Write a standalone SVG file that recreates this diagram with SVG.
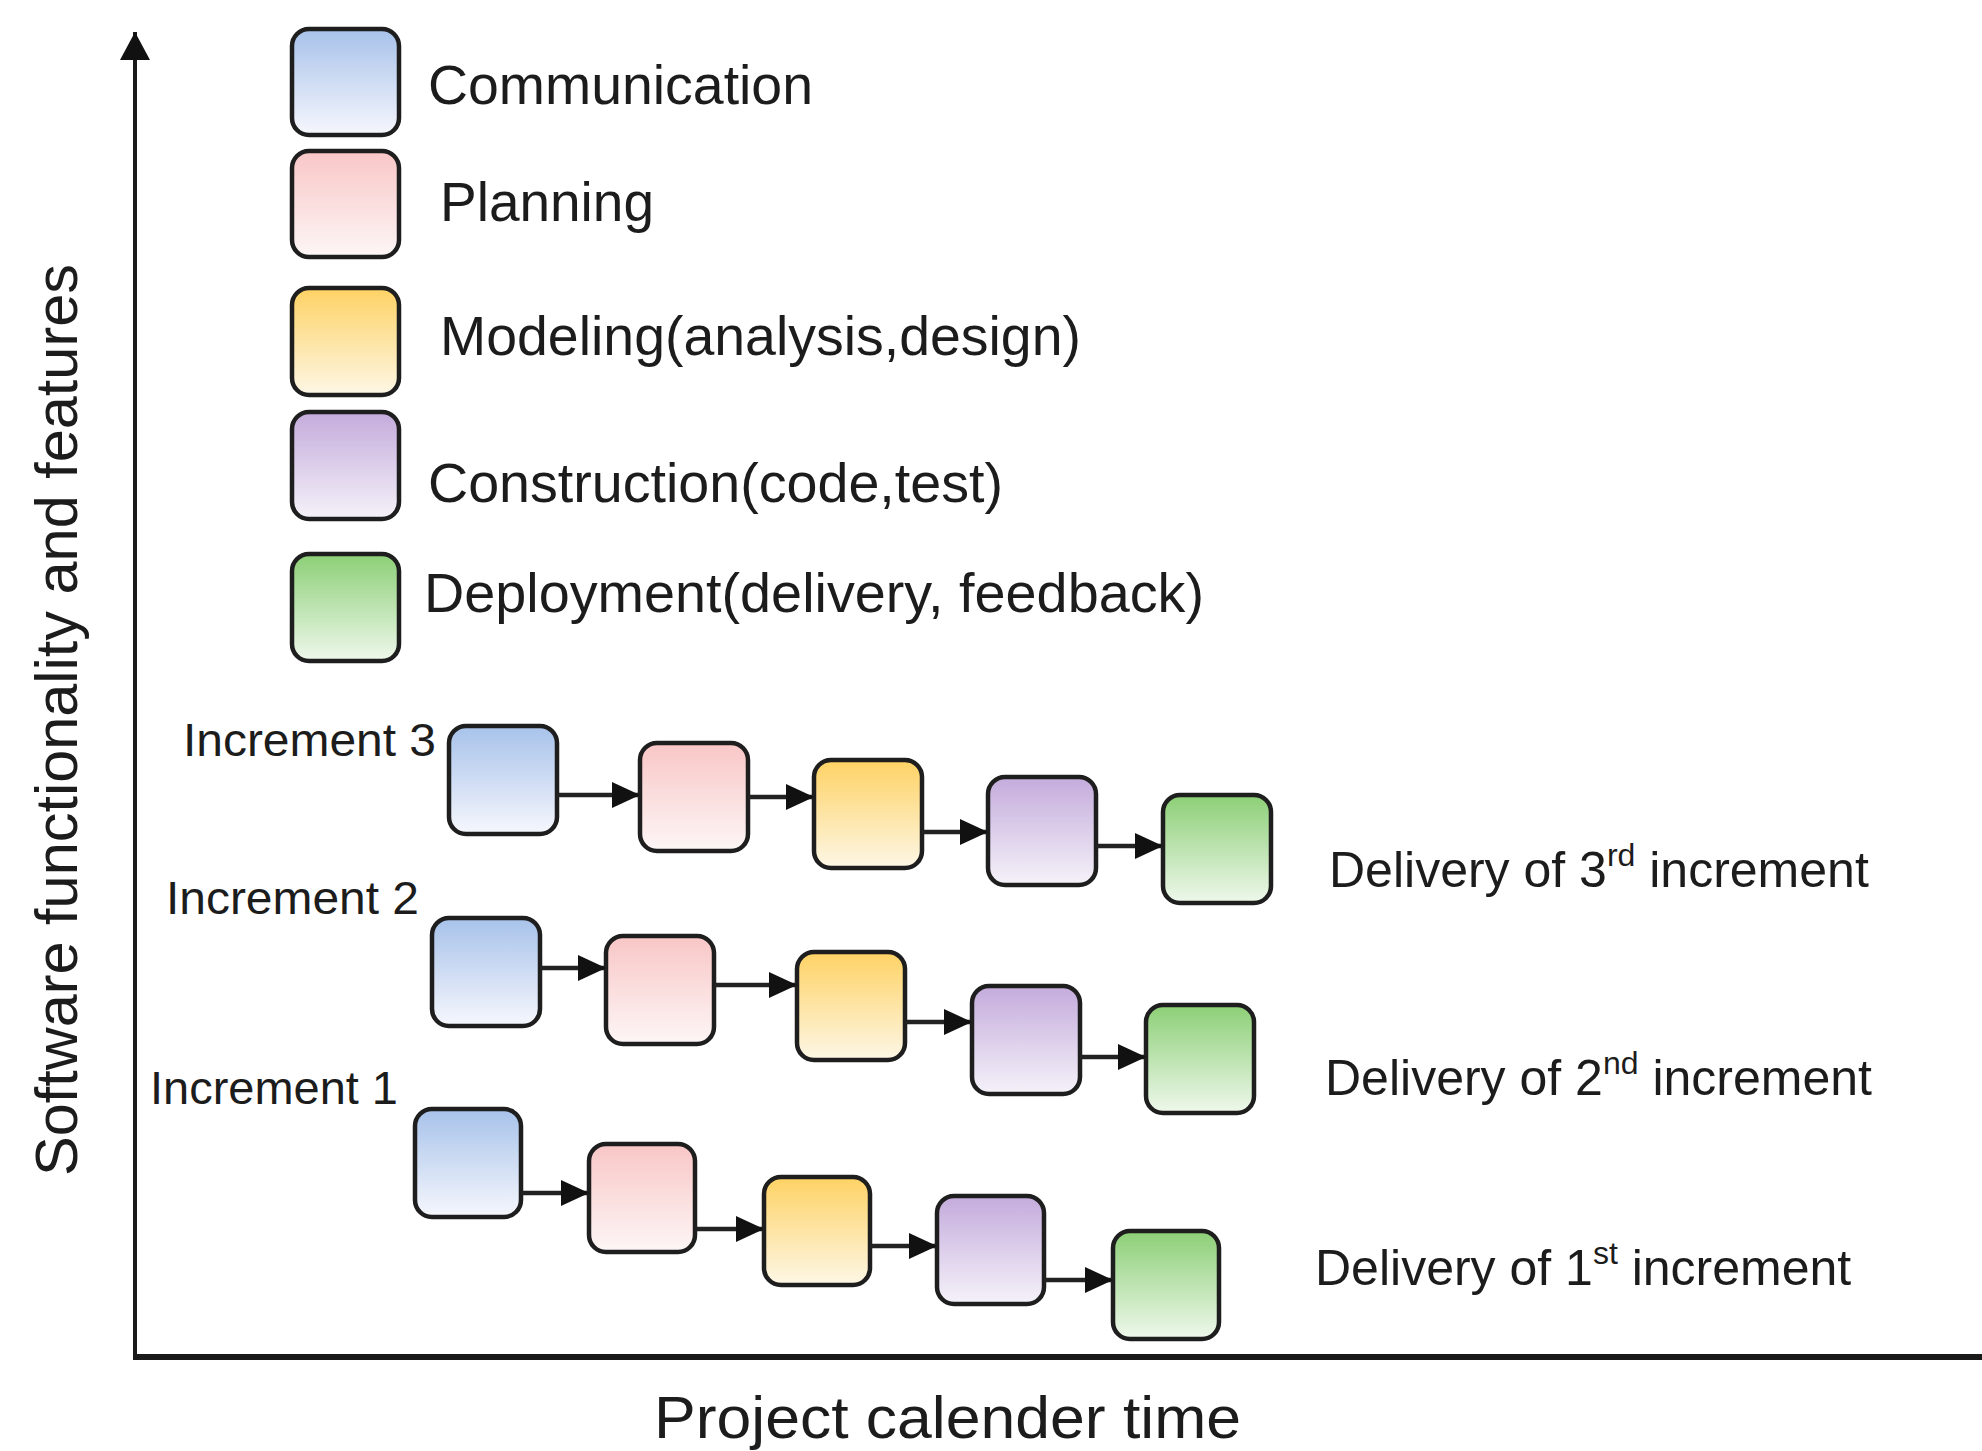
<svg xmlns="http://www.w3.org/2000/svg" width="1982" height="1451" viewBox="0 0 1982 1451">
<style>
  .t { font-family: "Liberation Sans", Arial, Helvetica, sans-serif; fill: #1c1c1c; }
  .box { stroke: #1e1e1e; stroke-width: 4.5; }
  .conn { stroke: #222; stroke-width: 4.5; fill: none; }
  .axis { stroke: #1a1a1a; fill: none; }
</style>
<defs>
  <linearGradient id="gBlue" x1="0" y1="0" x2="0" y2="1">
    <stop offset="0" stop-color="#a7c2ea"/>
    <stop offset="1" stop-color="#f6f7fd"/>
  </linearGradient>
  <linearGradient id="gPink" x1="0" y1="0" x2="0" y2="1">
    <stop offset="0" stop-color="#f9c6c6"/>
    <stop offset="1" stop-color="#fdf6f6"/>
  </linearGradient>
  <linearGradient id="gYellow" x1="0" y1="0" x2="0" y2="1">
    <stop offset="0" stop-color="#fed264"/>
    <stop offset="1" stop-color="#fdf7e6"/>
  </linearGradient>
  <linearGradient id="gPurple" x1="0" y1="0" x2="0" y2="1">
    <stop offset="0" stop-color="#c4abdc"/>
    <stop offset="1" stop-color="#f5f2f9"/>
  </linearGradient>
  <linearGradient id="gGreen" x1="0" y1="0" x2="0" y2="1">
    <stop offset="0" stop-color="#8ccf76"/>
    <stop offset="1" stop-color="#eff8ec"/>
  </linearGradient>
  <marker id="arr" viewBox="0 0 28 26" refX="28" refY="13" markerWidth="28" markerHeight="26" markerUnits="userSpaceOnUse" orient="auto">
    <path d="M0,0 L28,13 L0,26 z" fill="#111"/>
  </marker>
  <marker id="axArr" viewBox="0 0 28 30" refX="28" refY="15" markerWidth="28" markerHeight="30" markerUnits="userSpaceOnUse" orient="auto">
    <path d="M0,0 L28,15 L0,30 z" fill="#111"/>
  </marker>
</defs>
<rect width="1982" height="1451" fill="#ffffff"/>

<g id="axes">
  <line class="axis" x1="135" y1="1359" x2="135" y2="32" stroke-width="4" marker-end="url(#axArr)"/>
  <line class="axis" x1="133" y1="1357" x2="1982" y2="1357" stroke-width="6" stroke="#2a2a2a"/>
  <text class="t" font-size="60" transform="translate(77,720) rotate(-90)" text-anchor="middle" textLength="912" lengthAdjust="spacingAndGlyphs">Software functionality and features</text>
  <text class="t" x="654" y="1438" font-size="60" textLength="587" lengthAdjust="spacingAndGlyphs">Project calender time</text>
</g>

<g id="legend">
  <g id="legend-communication">
    <rect class="box" x="292" y="29" width="107" height="106" rx="17" fill="url(#gBlue)"/>
    <text class="t" x="428" y="104" font-size="55" textLength="385" lengthAdjust="spacingAndGlyphs">Communication</text>
  </g>
  <g id="legend-planning">
    <rect class="box" x="292" y="151" width="107" height="106" rx="17" fill="url(#gPink)"/>
    <text class="t" x="440" y="221" font-size="55" textLength="214" lengthAdjust="spacingAndGlyphs">Planning</text>
  </g>
  <g id="legend-modeling">
    <rect class="box" x="292" y="288" width="107" height="107" rx="17" fill="url(#gYellow)"/>
    <text class="t" x="440" y="355" font-size="55" textLength="641" lengthAdjust="spacingAndGlyphs">Modeling(analysis,design)</text>
  </g>
  <g id="legend-construction">
    <rect class="box" x="292" y="412" width="107" height="107" rx="17" fill="url(#gPurple)"/>
    <text class="t" x="428" y="502" font-size="55" textLength="575" lengthAdjust="spacingAndGlyphs">Construction(code,test)</text>
  </g>
  <g id="legend-deployment">
    <rect class="box" x="292" y="554" width="107" height="107" rx="17" fill="url(#gGreen)"/>
    <text class="t" x="424" y="612" font-size="55" textLength="780" lengthAdjust="spacingAndGlyphs">Deployment(delivery, feedback)</text>
  </g>
</g>

<g id="labels">
  <text class="t" x="183" y="756" font-size="46" textLength="253" lengthAdjust="spacingAndGlyphs">Increment 3</text>
  <text class="t" x="166" y="914" font-size="46" textLength="253" lengthAdjust="spacingAndGlyphs">Increment 2</text>
  <text class="t" x="150" y="1104" font-size="46" textLength="248" lengthAdjust="spacingAndGlyphs">Increment 1</text>
  <text class="t" x="1329" y="887" font-size="50">Delivery of 3<tspan font-size="32" dy="-21">rd</tspan><tspan dy="21"> increment</tspan></text>
  <text class="t" x="1325" y="1095" font-size="50">Delivery of 2<tspan font-size="32" dy="-21">nd</tspan><tspan dy="21"> increment</tspan></text>
  <text class="t" x="1315" y="1285" font-size="50">Delivery of 1<tspan font-size="32" dy="-21">st</tspan><tspan dy="21"> increment</tspan></text>
</g>

<g id="increment3">
  <rect id="i3-comm" class="box" x="449" y="726" width="108" height="108" rx="17" fill="url(#gBlue)"/>
  <rect id="i3-plan" class="box" x="640" y="743" width="108" height="108" rx="17" fill="url(#gPink)"/>
  <rect id="i3-model" class="box" x="814" y="760" width="108" height="108" rx="17" fill="url(#gYellow)"/>
  <rect id="i3-constr" class="box" x="988" y="777" width="108" height="108" rx="17" fill="url(#gPurple)"/>
  <rect id="i3-deploy" class="box" x="1163" y="795" width="108" height="108" rx="17" fill="url(#gGreen)"/>
</g>
<g id="increment2">
  <rect id="i2-comm" class="box" x="432" y="918" width="108" height="108" rx="17" fill="url(#gBlue)"/>
  <rect id="i2-plan" class="box" x="606" y="936" width="108" height="108" rx="17" fill="url(#gPink)"/>
  <rect id="i2-model" class="box" x="797" y="952" width="108" height="108" rx="17" fill="url(#gYellow)"/>
  <rect id="i2-constr" class="box" x="972" y="986" width="108" height="108" rx="17" fill="url(#gPurple)"/>
  <rect id="i2-deploy" class="box" x="1146" y="1005" width="108" height="108" rx="17" fill="url(#gGreen)"/>
</g>
<g id="increment1">
  <rect id="i1-comm" class="box" x="415" y="1109" width="106" height="108" rx="17" fill="url(#gBlue)"/>
  <rect id="i1-plan" class="box" x="589" y="1144" width="106" height="108" rx="17" fill="url(#gPink)"/>
  <rect id="i1-model" class="box" x="764" y="1177" width="106" height="108" rx="17" fill="url(#gYellow)"/>
  <rect id="i1-constr" class="box" x="937" y="1196" width="107" height="108" rx="17" fill="url(#gPurple)"/>
  <rect id="i1-deploy" class="box" x="1113" y="1231" width="106" height="108" rx="17" fill="url(#gGreen)"/>
</g>

<g id="connectors">
  <line class="conn" x1="557" y1="795" x2="640" y2="795" marker-end="url(#arr)"/>
  <line class="conn" x1="748" y1="797" x2="814" y2="797" marker-end="url(#arr)"/>
  <line class="conn" x1="922" y1="832" x2="988" y2="832" marker-end="url(#arr)"/>
  <line class="conn" x1="1096" y1="846" x2="1163" y2="846" marker-end="url(#arr)"/>

  <line class="conn" x1="540" y1="968" x2="606" y2="968" marker-end="url(#arr)"/>
  <line class="conn" x1="714" y1="985" x2="797" y2="985" marker-end="url(#arr)"/>
  <line class="conn" x1="905" y1="1022" x2="972" y2="1022" marker-end="url(#arr)"/>
  <line class="conn" x1="1080" y1="1057" x2="1146" y2="1057" marker-end="url(#arr)"/>

  <line class="conn" x1="521" y1="1193" x2="589" y2="1193" marker-end="url(#arr)"/>
  <line class="conn" x1="695" y1="1229" x2="764" y2="1229" marker-end="url(#arr)"/>
  <line class="conn" x1="870" y1="1246" x2="937" y2="1246" marker-end="url(#arr)"/>
  <line class="conn" x1="1044" y1="1280" x2="1113" y2="1280" marker-end="url(#arr)"/>
</g>
</svg>
